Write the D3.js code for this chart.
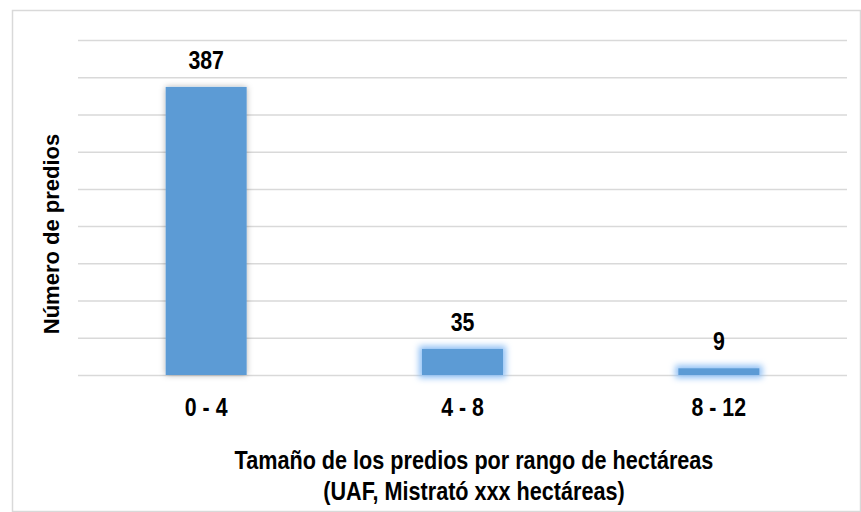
<!DOCTYPE html>
<html><head><meta charset="utf-8">
<script src="https://cdn.jsdelivr.net/npm/d3@7"></script>
<style>
html,body{margin:0;padding:0;background:#fff;}
svg{display:block;}
.lab{font-family:"Liberation Sans Narrow","Arial Narrow","Liberation Sans",Arial,sans-serif;font-weight:bold;fill:#000;}
</style></head>
<body>
<script>
const categories = ["0 - 4", "4 - 8", "8 - 12"];
const values = [387, 35, 9];
const yTicks = [0, 50, 100, 150, 200, 250, 300, 350, 400, 450];
const xTitle = ["Tamaño de los predios por rango de hectáreas", "(UAF, Mistrató xxx hectáreas)"];
const yTitle = "Número de predios";

(function(){
const W = 861, H = 512;
const NARROW = 0.82;
const svg = d3.select("body").append("svg").attr("width", W).attr("height", H);
const defs = svg.append("defs");
const sh = defs.append("filter").attr("id","shadow").attr("x","-20%").attr("y","-20%").attr("width","140%").attr("height","140%");
sh.append("feDropShadow").attr("dx",0).attr("dy",0).attr("stdDeviation",3).attr("flood-color","#000").attr("flood-opacity",0.3);
const gl = defs.append("filter").attr("id","glow").attr("x","-30%").attr("y","-150%").attr("width","160%").attr("height","400%");
gl.append("feMorphology").attr("in","SourceAlpha").attr("operator","dilate").attr("radius",2.5).attr("result","d");
gl.append("feGaussianBlur").attr("in","d").attr("stdDeviation",3).attr("result","b");
gl.append("feFlood").attr("flood-color","#8fc0f5").attr("flood-opacity",1);
gl.append("feComposite").attr("in2","b").attr("operator","in").attr("result","g");
const m = gl.append("feMerge");
m.append("feMergeNode").attr("in","g");
m.append("feMergeNode").attr("in","SourceGraphic");

svg.append("rect").attr("x",12.5).attr("y",10.5).attr("width",W-13).attr("height",H-11)
  .attr("fill","#fff").attr("stroke","#d9d9d9").attr("stroke-width",1.5);

const mL = 78, mR = 847, mT = 40, mB = 375;
const x = d3.scaleBand().domain(categories).range([mL, mR]).paddingInner(0.684).paddingOuter(0.342);
const y = d3.scaleLinear().domain([0, 450]).range([mB, mT]);

const grid = d3.axisLeft(y).tickValues(yTicks).tickSize(-(mR-mL)).tickFormat("");
const gg = svg.append("g").attr("transform",`translate(${mL},0)`).call(grid);
gg.select(".domain").remove();
gg.selectAll("line").attr("stroke","#d9d9d9").attr("stroke-width",1.5);

svg.selectAll("rect.bar").data(values).enter().append("rect").attr("class","bar")
  .attr("x",(d,i)=>x(categories[i])).attr("width",x.bandwidth())
  .attr("y",d=>y(d)).attr("height",d=>y(0)-y(d))
  .attr("fill","#5b9bd5")
  .attr("filter",(d,i)=>i===0?"url(#shadow)":"url(#glow)");

svg.selectAll("text.val").data(values).enter().append("text").attr("class","val lab")
  .attr("transform",(d,i)=>`translate(${x(categories[i])+x.bandwidth()/2},${y(d)-18}) scale(${NARROW},1)`)
  .attr("text-anchor","middle").attr("font-size",26).text(d=>d);

const xa = d3.axisBottom(x).tickSize(0).tickPadding(0);
const xg = svg.append("g").attr("transform",`translate(0,${mB})`).call(xa);
xg.select(".domain").remove();
xg.selectAll("text").attr("class","lab").attr("font-size",26).attr("fill","#000")
  .attr("dy",null).attr("y",0).attr("transform",`translate(0,41) scale(${NARROW},1)`);

xTitle.forEach((t,i)=>svg.append("text").attr("class","lab").attr("text-anchor","middle").attr("font-size",25)
  .attr("transform",`translate(474,${469+i*31}) scale(0.865,1)`).text(t));

svg.append("text").attr("transform","translate(59,234) rotate(-90)").attr("text-anchor","middle")
  .attr("font-family","'Liberation Sans',Arial,sans-serif").attr("font-weight","bold").attr("font-size",22).attr("fill","#000").text(yTitle);
})();
</script>
</body></html>
